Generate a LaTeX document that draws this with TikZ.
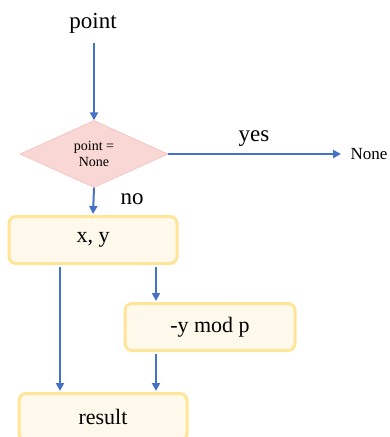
\documentclass[tikz,border=0pt]{standalone}
\usepackage{fontspec}
\setmainfont{Liberation Serif}
\usetikzlibrary{arrows.meta,shapes.geometric}
\definecolor{flow}{HTML}{4472C4}
\definecolor{boxline}{HTML}{FFE597}
\definecolor{boxfill}{HTML}{FEF9EA}
\definecolor{testline}{HTML}{F3B3AE}
\definecolor{testfill}{HTML}{F9D7D4}
\tikzset{
  link/.style={-{Triangle[length=8pt,width=8pt]}, line width=2pt, draw=flow},
  stepbox/.style={rectangle, rounded corners=7pt, line width=3pt, draw=boxline,
    fill=boxfill, minimum height=47pt, font=\fontsize{22}{24}\selectfont},
  test/.style={diamond, aspect=2.2, draw=testline, fill=testfill, minimum width=148pt,
    minimum height=67pt, inner sep=0pt, align=center, font=\fontsize{14}{16}\selectfont},
  lbl/.style={font=\fontsize{23}{25}\selectfont}
}

\begin{document}
\begin{tikzpicture}[x=1pt,y=-1pt]
  \useasboundingbox (0,0) rectangle (389,437);
  \clip (0,0) rectangle (389,437);
  % columns of the two parallel links
  \coordinate (lcol) at (60,0);
  \coordinate (rcol) at (156,0);
  \node[lbl] (start) at (93,23) {point};
  \node[test] (check) at (94,154) {point =\\None};
  \node[font=\fontsize{17}{19}\selectfont, anchor=west] (none) at (347,154) {None};
  \node[stepbox, minimum width=168pt] (xy) at (93,240) {x, y};
  \node[stepbox, minimum width=170pt] (modp) at (210,327) {-y mod p};
  \node[stepbox, minimum width=168pt] (result) at (103,417) {result};
  \node[lbl] (yes) at (254,139) {yes};
  \node[lbl] (no) at (132,199) {no};
  \draw[link] ([yshift=-6pt]start.south -| check.north) -- (check.north);
  \draw[link, shorten >=6pt] (check.east) -- (check.east -| none.west);
  \draw[link, shorten >=1pt] (check.south) -- (xy.north);
  \draw[link, shorten <=2pt, shorten >=1pt] (xy.south -| lcol) -- (result.north -| lcol);
  \draw[link, shorten <=2pt, shorten >=1pt] (xy.south -| rcol) -- (modp.north -| rcol);
  \draw[link, shorten <=2pt, shorten >=1pt] (modp.south -| rcol) -- (result.north -| rcol);
\end{tikzpicture}
\end{document}
